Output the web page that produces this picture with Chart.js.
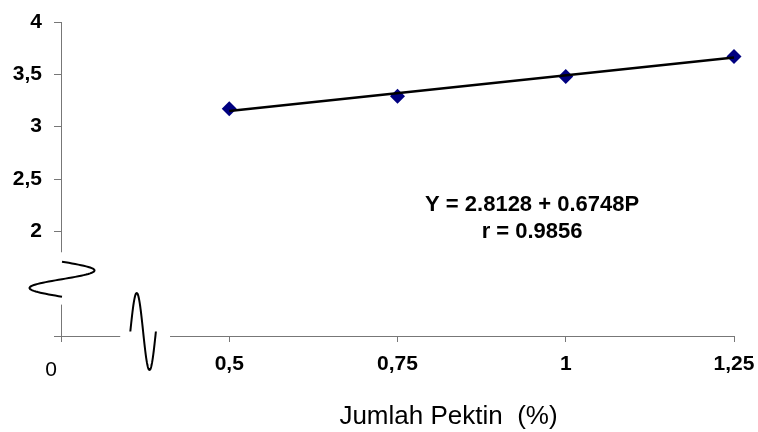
<!DOCTYPE html>
<html>
<head>
<meta charset="utf-8">
<script src="https://cdn.jsdelivr.net/npm/chart.js@4/dist/chart.umd.min.js"></script>
<style>
  body { margin: 0; background: #fff; }
  #wrap { width: 758px; height: 432px; }
</style>
</head>
<body>
<div id="wrap"><canvas id="myChart" width="758" height="432"></canvas></div>
<script>
// data
const pektin = [0.5, 0.75, 1, 1.25];          // Jumlah Pektin (%)
const values = [3.17, 3.29, 3.48, 3.67];        // measured values
const trendX = [0.5, 1.25];                     // regression line ends
const trendY = [3.15, 3.66];
const xTicks = [0.25, 0.5, 0.75, 1, 1.25];
const yTicks = [1, 2, 2.5, 3, 3.5, 4];
const equation = ['Y = 2.8128 + 0.6748P', 'r = 0.9856'];
const xTitle = 'Jumlah Pektin  (%)';

// axis break positions (in axis values)
const yBreak = [1.30, 1.80];
const xBreak = [0.338, 0.412];

const FONT = '"Liberation Sans", Arial, sans-serif';
const comma = v => String(v).replace('.', ',');

// draws the axis breaks, the "0" at the origin, equation and x title
const extras = {
  id: 'extras',
  afterDraw(chart) {
    const ctx = chart.ctx;
    const xs = chart.scales.x, ys = chart.scales.y;
    const ax = xs.getPixelForValue(xs.min);
    const ay = ys.getPixelForValue(ys.min);
    ctx.save();

    // gaps in the axis lines
    ctx.fillStyle = '#fff';
    const y1 = ys.getPixelForValue(yBreak[1]), y0 = ys.getPixelForValue(yBreak[0]);
    ctx.fillRect(ax - 3, y1, 6, y0 - y1);
    const x0 = xs.getPixelForValue(xBreak[0]), x1 = xs.getPixelForValue(xBreak[1]);
    ctx.fillRect(x0, ay - 3, x1 - x0, 6);

    ctx.strokeStyle = '#000';
    ctx.lineWidth = 2;

    // wave on y axis
    ctx.beginPath();
    const wy0 = ys.getPixelForValue(1.71), wy1 = ys.getPixelForValue(1.375);
    for (let i = 0; i <= 60; i++) {
      const t = i / 60;
      const px = ax + 1 + 32.5 * Math.sin(2 * Math.PI * t);
      const py = wy0 + (wy1 - wy0) * t;
      i ? ctx.lineTo(px, py) : ctx.moveTo(px, py);
    }
    ctx.stroke();

    // wave on x axis
    ctx.beginPath();
    const wx0 = xs.getPixelForValue(0.353), wx1 = xs.getPixelForValue(0.391);
    for (let i = 0; i <= 60; i++) {
      const t = i / 60;
      const px = wx0 + (wx1 - wx0) * t;
      const py = ay - 4.5 - 38.5 * Math.sin(2 * Math.PI * t);
      i ? ctx.lineTo(px, py) : ctx.moveTo(px, py);
    }
    ctx.stroke();

    ctx.fillStyle = '#000';
    ctx.textAlign = 'center';
    ctx.textBaseline = 'middle';

    // origin label
    ctx.font = '21px ' + FONT;
    ctx.fillText('0', ax - 10, ay + 34);

    // regression equation
    ctx.font = 'bold 22px ' + FONT;
    const ex = xs.getPixelForValue(0.95), ey = ys.getPixelForValue(2.25);
    ctx.fillText(equation[0], ex, ey);
    ctx.fillText(equation[1], ex, ey + 27);

    // x axis title
    ctx.font = '26px ' + FONT;
    const ca = chart.chartArea;
    ctx.fillText(xTitle, (ca.left + ca.right) / 2 + 51, ay + 81);

    ctx.restore();
  }
};

const ctx = document.getElementById('myChart').getContext('2d');
new Chart(ctx, {
  type: 'scatter',
  data: {
    datasets: [
      {
        label: 'trend',
        data: trendX.map((x, i) => ({ x: x, y: trendY[i] })),
        showLine: true,
        borderColor: '#000',
        borderWidth: 2.5,
        pointRadius: 0,
        clip: false,
        order: 0
      },
      {
        label: 'data',
        data: pektin.map((x, i) => ({ x: x, y: values[i] })),
        pointStyle: 'rectRot',
        pointRadius: 7.5,
        backgroundColor: '#000080',
        borderColor: '#000080',
        borderWidth: 0,
        clip: false,
        order: 1
      }
    ]
  },
  options: {
    responsive: false,
    animation: false,
    layout: { padding: { top: 22, left: 0, right: 0, bottom: 0 } },
    plugins: {
      legend: { display: false },
      tooltip: { enabled: false }
    },
    scales: {
      x: {
        type: 'linear',
        min: 0.25,
        max: 1.25,
        afterBuildTicks: s => { s.ticks = xTicks.map(v => ({ value: v })); },
        afterFit: s => { s.height = 96; s.paddingLeft = 0; s.paddingRight = 24; },
        border: { color: '#777', width: 1 },
        grid: { drawOnChartArea: false, drawTicks: true, tickLength: 6, color: '#777' },
        ticks: {
          padding: 10,
          color: '#000',
          maxRotation: 0,
          autoSkip: false,
          font: { family: FONT, size: 21, weight: 'bold' },
          callback: v => v === 0.25 ? '' : comma(v)
        }
      },
      y: {
        type: 'linear',
        min: 1,
        max: 4,
        afterBuildTicks: s => { s.ticks = yTicks.map(v => ({ value: v })); },
        afterFit: s => { s.width = 61; s.paddingTop = 0; },
        border: { color: '#777', width: 1 },
        grid: { drawOnChartArea: false, drawTicks: true, tickLength: 7, color: '#777' },
        ticks: {
          padding: 12,
          color: '#000',
          autoSkip: false,
          font: { family: FONT, size: 21, weight: 'bold' },
          callback: v => v === 1 ? '' : comma(v)
        }
      }
    }
  },
  plugins: [extras]
});
</script>
</body>
</html>
